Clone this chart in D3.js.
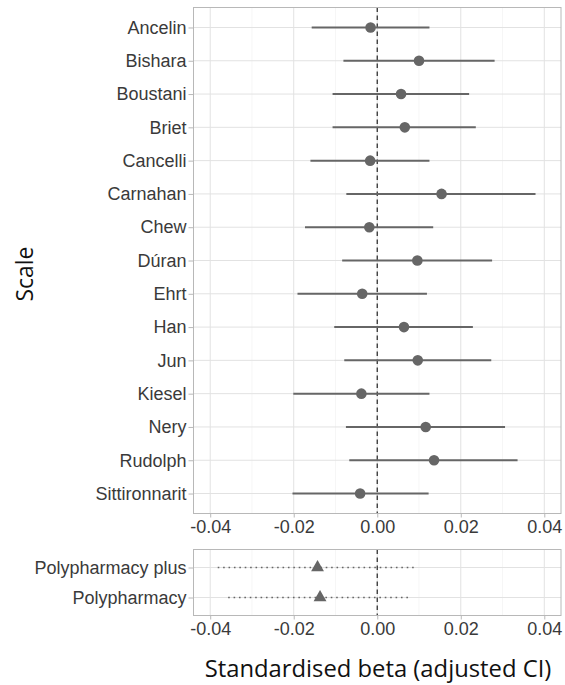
<!DOCTYPE html>
<html>
<head>
<meta charset="utf-8">
<script src="https://cdn.jsdelivr.net/npm/d3@7"></script>
<style>
  html, body { margin: 0; padding: 0; background: #fff; }
  svg { display: block; }
</style>
</head>
<body>
<svg id="chart" width="565" height="685"></svg>
<script>
// ---- data ----
const scales = ["Ancelin","Bishara","Boustani","Briet","Cancelli","Carnahan","Chew","Dúran","Ehrt","Han","Jun","Kiesel","Nery","Rudolph","Sittironnarit"];
const scaleBeta = [-0.0016, 0.0100, 0.0057, 0.0066, -0.0017, 0.0154, -0.0019, 0.0096, -0.0036, 0.0064, 0.0097, -0.0038, 0.0116, 0.0136, -0.0041];
const scaleLow  = [-0.0157, -0.0081, -0.0107, -0.0107, -0.0160, -0.0074, -0.0173, -0.0084, -0.0191, -0.0103, -0.0079, -0.0201, -0.0075, -0.0067, -0.0203];
const scaleHigh = [0.0125, 0.0281, 0.0220, 0.0236, 0.0125, 0.0379, 0.0134, 0.0275, 0.0119, 0.0229, 0.0273, 0.0125, 0.0306, 0.0336, 0.0123];

const polyNames = ["Polypharmacy plus","Polypharmacy"];
const polyBeta  = [-0.0143, -0.0137];
const polyLow   = [-0.0382, -0.0357];
const polyHigh  = [0.0095, 0.0082];

const xTicks = [-0.04, -0.02, 0.00, 0.02, 0.04];
const xMinor = [-0.03, -0.01, 0.01, 0.03];
const xDomain = [-0.044, 0.044];
const xTitle = "Standardised beta (adjusted CI)";
const yTitle = "Scale";

// ---- layout ----
const svg = d3.select("#chart");
const left = 193.5, right = 561;
const p1 = {top: 7.5, bottom: 513.5};
const p2 = {top: 549.5, bottom: 615.5};
const axisFont = "'Liberation Sans', Arial, sans-serif";
const titleFont = "'Open Sans', 'DejaVu Sans', sans-serif";
const textCol = "#3a3a3a";
const markCol = "#666";

const x = d3.scaleLinear().domain(xDomain).range([left, right]);

function panel(names, beta, lo, hi, top, bottom, kind) {
  const y = d3.scalePoint().domain(names).range([top, bottom]).padding(0.6);
  const g = svg.append("g");
  // minor grid
  g.selectAll(".minor").data(xMinor).join("line")
    .attr("x1", d => x(d)).attr("x2", d => x(d))
    .attr("y1", top).attr("y2", bottom)
    .attr("stroke", "#f0f0f0").attr("stroke-width", 0.6);
  // major grid
  g.selectAll(".major").data(xTicks).join("line")
    .attr("x1", d => x(d)).attr("x2", d => x(d))
    .attr("y1", top).attr("y2", bottom)
    .attr("stroke", "#e2e2e2").attr("stroke-width", 1);
  g.selectAll(".hgrid").data(names).join("line")
    .attr("x1", left).attr("x2", right)
    .attr("y1", d => y(d)).attr("y2", d => y(d))
    .attr("stroke", "#e2e2e2").attr("stroke-width", 1);
  // zero line
  g.append("line")
    .attr("x1", x(0)).attr("x2", x(0)).attr("y1", top).attr("y2", bottom)
    .attr("stroke", "#333").attr("stroke-width", 1.3)
    .attr("stroke-dasharray", "4.5,3.5");
  // intervals
  const rows = names.map((n, i) => ({n, b: beta[i], l: lo[i], h: hi[i]}));
  g.selectAll(".ci").data(rows).join("line")
    .attr("x1", d => x(d.l)).attr("x2", d => x(d.h))
    .attr("y1", d => y(d.n)).attr("y2", d => y(d.n))
    .attr("stroke", markCol)
    .attr("stroke-width", kind === "tri" ? 1.7 : 2)
    .attr("stroke-dasharray", kind === "tri" ? "1.6,3.8" : null);
  if (kind === "tri") {
    g.selectAll(".pt").data(rows).join("path")
      .attr("transform", d => `translate(${x(d.b)},${y(d.n)})`)
      .attr("d", d3.symbol(d3.symbolTriangle, 72)())
      .attr("fill", markCol);
  } else {
    g.selectAll(".pt").data(rows).join("circle")
      .attr("cx", d => x(d.b)).attr("cy", d => y(d.n)).attr("r", 5.3)
      .attr("fill", markCol);
  }
  // border
  g.append("rect").attr("x", left).attr("y", top)
    .attr("width", right - left).attr("height", bottom - top)
    .attr("fill", "none").attr("stroke", "#b8b8b8").attr("stroke-width", 1);
  // y axis
  const ya = d3.axisLeft(y).tickSize(5).tickPadding(2);
  const yg = svg.append("g").attr("transform", `translate(${left},0)`).call(ya);
  yg.select(".domain").remove();
  yg.selectAll(".tick line").attr("stroke", "#b8b8b8");
  yg.selectAll(".tick text").attr("fill", textCol)
    .style("font-family", axisFont).style("font-size", "18px");
  // x axis
  const xa = d3.axisBottom(x).tickValues(xTicks).tickFormat(d3.format(".2f")).tickSize(4).tickPadding(3);
  const xg = svg.append("g").attr("transform", `translate(0,${bottom})`).call(xa);
  xg.select(".domain").remove();
  xg.selectAll(".tick line").attr("stroke", "#b8b8b8");
  xg.selectAll(".tick text").attr("fill", textCol)
    .style("font-family", axisFont).style("font-size", "18px")
    .text(d => d3.format(".2f")(d).replace("−", "-"));
}

panel(scales, scaleBeta, scaleLow, scaleHigh, p1.top, p1.bottom, "dot");
panel(polyNames, polyBeta, polyLow, polyHigh, p2.top, p2.bottom, "tri");

// titles
function fitText(sel, target) {
  const w = sel.node().getComputedTextLength();
  const fs = parseFloat(sel.style("font-size"));
  sel.style("font-size", (fs * target / w) + "px");
}
const xt = svg.append("text")
  .attr("x", 378).attr("y", 677)
  .attr("text-anchor", "middle")
  .attr("fill", "#111")
  .style("font-family", titleFont).style("font-size", "20px")
  .text(xTitle);
fitText(xt, 347);

const yt = svg.append("text")
  .attr("transform", "translate(33,274) rotate(-90)")
  .attr("text-anchor", "middle")
  .attr("fill", "#111")
  .style("font-family", titleFont).style("font-size", "22px")
  .text(yTitle);
fitText(yt, 55);
</script>
</body>
</html>
